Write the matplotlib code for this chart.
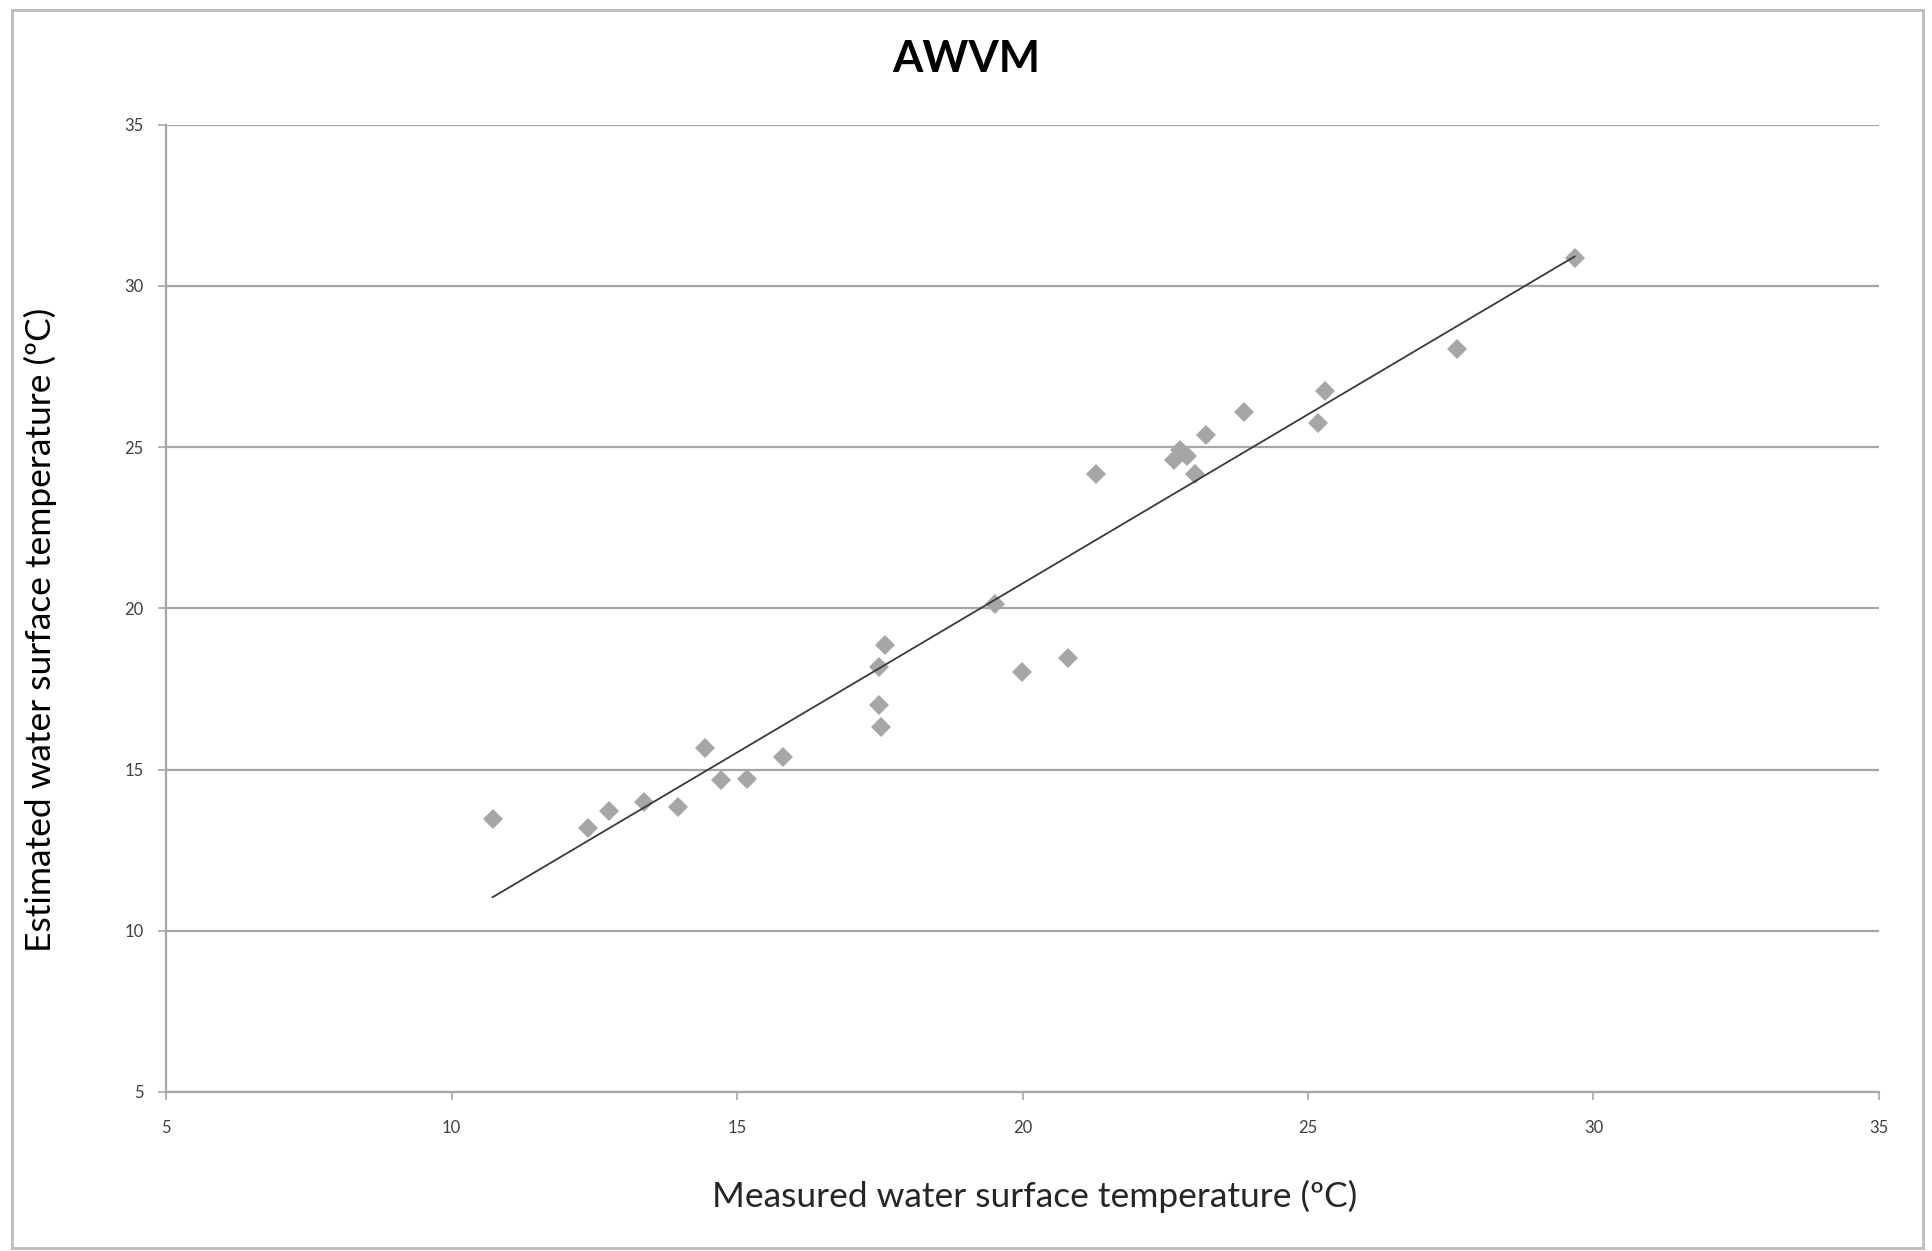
import numpy as np
import matplotlib
matplotlib.use("Agg")
import matplotlib.pyplot as plt
from matplotlib.patches import Rectangle

plt.rcParams['font.family'] = ['Lato', 'DejaVu Sans']

measured = [10.72, 12.39, 12.75, 13.38, 13.96, 14.44, 14.72, 15.17, 15.80,
            17.48, 17.59, 17.48, 17.53, 19.51, 19.99, 20.79, 21.29, 22.65,
            22.76, 22.88, 23.02, 23.21, 23.88, 25.17, 25.30, 27.61, 29.67]
estimated = [13.45, 13.18, 13.71, 13.98, 13.83, 15.66, 14.67, 14.71, 15.39,
             18.18, 18.87, 17.00, 16.31, 20.13, 18.03, 18.45, 24.15, 24.61,
             24.91, 24.73, 24.17, 25.37, 26.10, 25.75, 26.74, 28.04, 30.87]
ticks = [5, 10, 15, 20, 25, 30, 35]
title = "AWVM"
xlabel = "Measured water surface temperature (ºC)"
ylabel = "Estimated water surface temperature (ºC)"

W, H = 1933, 1251
fig = plt.figure(figsize=(W / 100, H / 100), dpi=100)
fig.patch.set_facecolor('white')
fig.patches.append(Rectangle((12 / W, 3 / H), (1923 - 12) / W, (1241 - 3) / H,
                             transform=fig.transFigure, fill=False,
                             edgecolor='#c0c0c0', linewidth=2.2))

ax = fig.add_axes([166 / W, 1 - 1092 / H, (1879 - 166) / W, (1092 - 124.5) / H])
ax.set_xlim(5, 35)
ax.set_ylim(5, 35)
ax.set_xticks(ticks)
ax.set_yticks(ticks)
ax.yaxis.grid(True, color='#a6a6a6', linewidth=1.6)
ax.set_axisbelow(True)
for s in ['top', 'right']:
    ax.spines[s].set_visible(False)
ax.spines['left'].set_color('#a6a6a6')
ax.spines['left'].set_linewidth(1.6)
ax.spines['bottom'].set_color('#a6a6a6')
ax.spines['bottom'].set_linewidth(1.6)
ax.tick_params(axis='both', direction='out', length=6, width=1.2, color='#a6a6a6',
               labelsize=12, labelcolor='#404040')
ax.tick_params(axis='x', pad=14)
ax.tick_params(axis='y', pad=10)

m, b = np.polyfit(measured, estimated, 1)
xl = np.array([min(measured), max(measured)])
ax.plot(xl, m * xl + b, color='#3a3a3a', linewidth=1.3, zorder=3)
ax.plot(measured, estimated, linestyle='none', marker='D', markersize=10.5,
        color='#a6a6a6', markeredgewidth=0, zorder=2)

fig.text(966 / W, 1 - 59 / H, title, ha='center', va='center', fontsize=31.5,
         fontweight='bold', color='black')
fig.text(1035 / W, 1 - 1196 / H, xlabel, ha='center', va='center', fontsize=25.5,
         color='#262626')
fig.text(40 / W, 1 - 630 / H, ylabel, ha='center', va='center', fontsize=25.5,
         rotation=90, color='#000000')

fig.savefig('out.png', dpi=100)
